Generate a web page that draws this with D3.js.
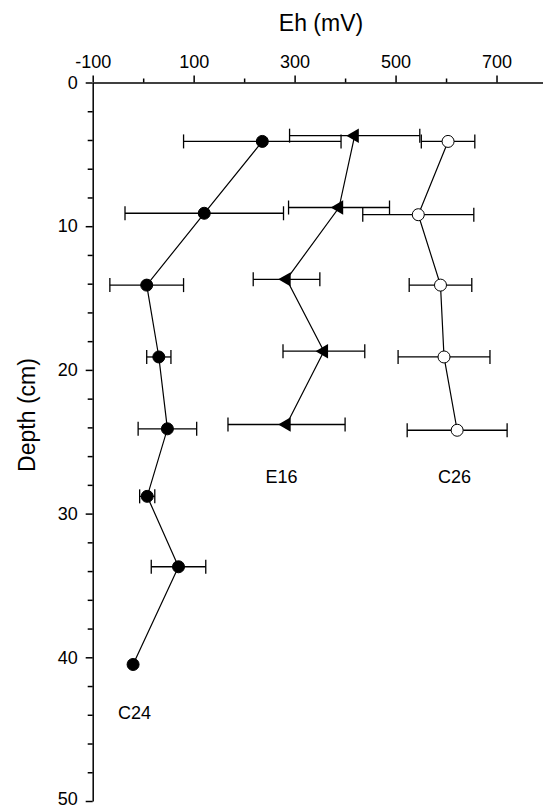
<!DOCTYPE html>
<html>
<head>
<meta charset="utf-8">
<script src="https://cdn.jsdelivr.net/npm/d3@7"></script>
<style>
  body { margin: 0; background: #fff; }
  svg { display: block; font-family: "Liberation Sans", Arial, sans-serif; }
</style>
</head>
<body>
<div id="chart"></div>
<script>
// Profile C24 (filled circles)
const depthC24 = [4.1, 9.1, 14.1, 19.1, 24.1, 28.8, 33.7, 40.5];
const ehC24 = [236, 121, 7, 31, 48, 8, 70, -20];
const errC24 = [156, 157, 73, 24, 58, 15, 54, 0];

// Profile E16 (triangles)
const depthE16 = [3.7, 8.7, 13.7, 18.7, 23.8];
const ehE16 = [419, 388, 284, 358, 284];
const errE16 = [129, 100, 66, 81, 116];

// Profile C26 (open circles)
const depthC26 = [4.1, 9.2, 14.1, 19.1, 24.2];
const ehC26 = [604, 545, 589, 596, 622];
const errC26 = [53, 110, 62, 91, 99];

// Tick labels
const xMajorTicks = [-100, 100, 300, 500, 700];
const xMinorTicks = [0, 200, 400, 600, 800];
const yMajorTicks = [0, 10, 20, 30, 40, 50];
const yMinorTicks = [2, 4, 6, 8, 12, 14, 16, 18, 22, 24, 26, 28, 32, 34, 36, 38, 42, 44, 46, 48];

// Profile name labels (placed in data units)
const labelNames = ["C24", "E16", "C26"];
const labelEh = [-17, 274, 617];
const labelDepth = [44.3, 27.9, 27.9];

const width = 543, height = 808;

const svg = d3.select("#chart")
  .append("svg")
  .attr("width", width)
  .attr("height", height);

const x = d3.scaleLinear().domain([-100, 800]).range([92.7, 547]);
const y = d3.scaleLinear().domain([0, 50]).range([82.5, 801]);

// X axis (top)
svg.append("g")
  .attr("transform", "translate(0," + y(0) + ")")
  .call(d3.axisTop(x).tickValues(xMinorTicks).tickSize(4).tickSizeOuter(0).tickFormat(""))
  .call(g => g.select(".domain").remove());

const xAxis = svg.append("g")
  .attr("transform", "translate(0," + y(0) + ")")
  .call(d3.axisTop(x).tickValues(xMajorTicks).tickSize(7).tickSizeOuter(0).tickPadding(8).tickFormat(d => String(d)));
xAxis.selectAll("text").style("font-size", "18px").attr("fill", "#000");

// Y axis (left)
svg.append("g")
  .attr("transform", "translate(" + x(-100) + ",0)")
  .call(d3.axisLeft(y).tickValues(yMinorTicks).tickSize(5).tickSizeOuter(0).tickFormat(""))
  .call(g => g.select(".domain").remove());

const yAxis = svg.append("g")
  .attr("transform", "translate(" + x(-100) + ",0)")
  .call(d3.axisLeft(y).tickValues(yMajorTicks).tickSize(7).tickSizeOuter(0).tickPadding(8).tickFormat(d => String(d)));
yAxis.selectAll("text").style("font-size", "18px").attr("fill", "#000");
// keep the bottom label inside the picture
yAxis.selectAll("text").filter(d => d === 50).attr("dy", "0.2em");

svg.selectAll(".domain, .tick line").attr("stroke", "#000").attr("stroke-width", 1.5);

// Axis titles
svg.append("text")
  .attr("x", 321)
  .attr("y", 31)
  .attr("text-anchor", "middle")
  .style("font-size", "23px")
  .text("Eh (mV)");

svg.append("text")
  .attr("transform", "translate(35,415) rotate(-90)")
  .attr("text-anchor", "middle")
  .style("font-size", "23px")
  .text("Depth (cm)");

function makeSeries(depth, eh, err) {
  return depth.map((d, i) => ({ depth: d, eh: eh[i], err: err[i] }));
}

const series = [
  { name: "C24", data: makeSeries(depthC24, ehC24, errC24), marker: "circle", fill: "#000" },
  { name: "E16", data: makeSeries(depthE16, ehE16, errE16), marker: "triangle", fill: "#000" },
  { name: "C26", data: makeSeries(depthC26, ehC26, errC26), marker: "circle", fill: "#fff" }
];

const cap = 7;
const line = d3.line().x(d => x(d.eh)).y(d => y(d.depth));

series.forEach(s => {
  const g = svg.append("g");

  // Error bars
  const bars = g.selectAll("g.err")
    .data(s.data.filter(d => d.err > 0))
    .enter()
    .append("g")
    .attr("stroke", "#000")
    .attr("stroke-width", 1.3);
  bars.append("line")
    .attr("x1", d => x(d.eh - d.err))
    .attr("x2", d => x(d.eh + d.err))
    .attr("y1", d => y(d.depth))
    .attr("y2", d => y(d.depth));
  bars.append("line")
    .attr("x1", d => x(d.eh - d.err))
    .attr("x2", d => x(d.eh - d.err))
    .attr("y1", d => y(d.depth) - cap)
    .attr("y2", d => y(d.depth) + cap);
  bars.append("line")
    .attr("x1", d => x(d.eh + d.err))
    .attr("x2", d => x(d.eh + d.err))
    .attr("y1", d => y(d.depth) - cap)
    .attr("y2", d => y(d.depth) + cap);

  // Connecting line
  g.append("path")
    .datum(s.data)
    .attr("fill", "none")
    .attr("stroke", "#000")
    .attr("stroke-width", 1.2)
    .attr("d", line);

  // Markers
  if (s.marker === "circle") {
    g.selectAll("circle")
      .data(s.data)
      .enter()
      .append("circle")
      .attr("cx", d => x(d.eh))
      .attr("cy", d => y(d.depth))
      .attr("r", 6)
      .attr("fill", s.fill)
      .attr("stroke", "#000")
      .attr("stroke-width", 1);
  } else {
    g.selectAll("path.sym")
      .data(s.data)
      .enter()
      .append("path")
      .attr("class", "sym")
      .attr("d", d3.symbol().type(d3.symbolTriangle).size(90))
      .attr("transform", d => "translate(" + x(d.eh) + "," + y(d.depth) + ") rotate(-90)")
      .attr("fill", s.fill);
  }
});

// Profile labels
svg.append("g")
  .selectAll("text")
  .data(labelNames)
  .enter()
  .append("text")
  .attr("x", (d, i) => x(labelEh[i]))
  .attr("y", (d, i) => y(labelDepth[i]))
  .attr("text-anchor", "middle")
  .style("font-size", "18px")
  .text(d => d);
</script>
</body>
</html>
